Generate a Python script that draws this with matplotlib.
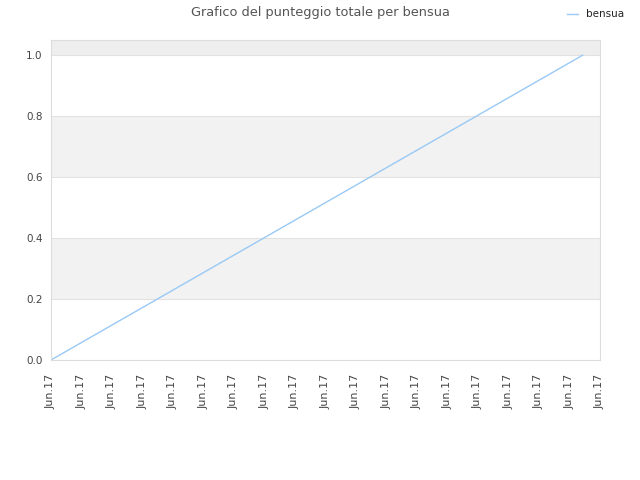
import matplotlib
matplotlib.use('Agg')
import matplotlib.pyplot as plt

# dati
x_vals = [0.0, 17.43]
punteggio = [0.0, 1.0]
tick_pos = list(range(19))
tick_labels = ["Jun.17"] * 19
y_ticks = [0.0, 0.2, 0.4, 0.6, 0.8, 1.0]

fig = plt.figure(figsize=(6.4, 4.8), dpi=100)
ax = fig.add_axes([51/640, 120/480, 549/640, 320/480])

# bande grigie alternate
for lo, hi in [(0.2, 0.4), (0.6, 0.8)]:
    ax.axhspan(lo, hi, color='#f2f2f2', zorder=0, lw=0)
ax.axhspan(1.0, 1.05, color='#eeeeee', zorder=0, lw=0)
for y in y_ticks[1:]:
    ax.axhline(y, color='#e2e2e2', lw=0.8, zorder=1)

ax.plot(x_vals, punteggio, color='#99c9f5', lw=1, label='bensua', zorder=2)

ax.set_xlim(0, 18)
ax.set_ylim(0, 1.05)
ax.set_xticks(tick_pos)
ax.set_xticklabels(tick_labels, rotation=90, fontsize=8, color='#444444')
ax.set_yticks(y_ticks)
ax.set_yticklabels(["%.1f" % v for v in y_ticks], fontsize=7.5, color='#444444')
ax.tick_params(axis='x', length=0, pad=10)
ax.tick_params(axis='y', length=0, pad=6)
for s in ax.spines.values():
    s.set_color('#dddddd')

fig.suptitle("Grafico del punteggio totale per bensua", fontsize=9.3, color='#555555', y=0.988)
fig.legend(loc='upper right', bbox_to_anchor=(0.99, 1.0), frameon=False, fontsize=7.5,
           handlelength=1.0, labelcolor='#222222')

fig.savefig('out.png', dpi=100)
